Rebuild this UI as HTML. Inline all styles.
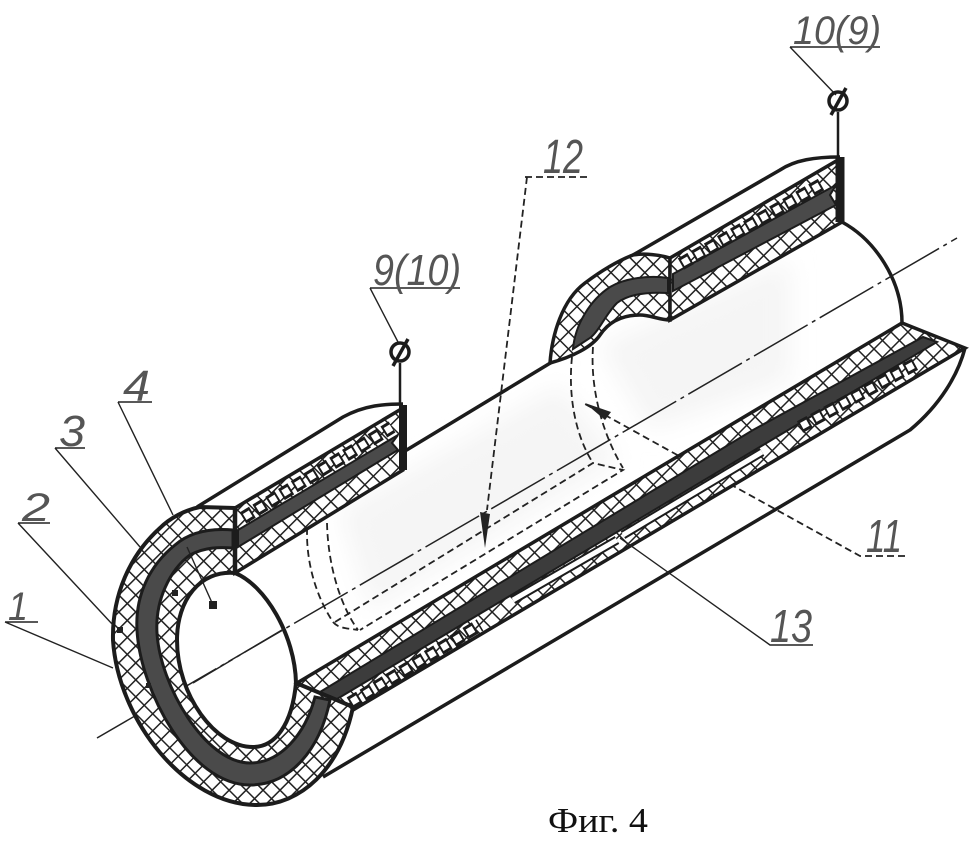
<!DOCTYPE html>
<html><head><meta charset="utf-8"><style>
html,body{margin:0;padding:0;background:#fff}
svg{display:block}
</style></head><body>
<svg xmlns="http://www.w3.org/2000/svg" width="970" height="844" viewBox="0 0 970 844">
<defs>
<pattern id="h" width="12" height="12" patternUnits="userSpaceOnUse" patternTransform="rotate(45)">
<rect width="12" height="12" fill="#fff"/>
<path d="M0,0H12M0,0V12" stroke="#222" stroke-width="3" fill="none"/>
</pattern>
<filter id="b"><feGaussianBlur stdDeviation="12"/></filter>
</defs>
<rect width="970" height="844" fill="#fff"/>
<g filter="url(#b)" fill="#f5f5f5">
<polygon points="340,510 560,385 620,460 370,610"/>
<polygon points="600,345 790,260 790,380 650,430"/>
</g>

<!-- body lines -->
<g fill="none" stroke="#1c1c1c" stroke-width="3.5">
<path d="M197,507L343,417C365,405 385,404 403,404"/>
<path d="M633,255L780,170C795,160 815,157 840,157"/>
<path d="M405,451L552,362"/>
<path d="M842,222C875,240 902,280 902,323"/>
<path d="M323,777L910,430C940,405 958,375 965,348"/>
</g>

<!-- centre line -->
<g fill="none" stroke="#222" stroke-width="1.5" stroke-dasharray="62 5 4 5">
<path d="M97,738L957,238"/>
</g>

<!-- hidden dashed -->
<g fill="none" stroke="#222" stroke-width="1.8" stroke-dasharray="7 4">
<path d="M308,517C304,550 312,590 333,622C338,628 345,628 358,630"/>
<path d="M327,523C328,565 340,605 358,630"/>
<path d="M335,622L593,463L623,470L360,630"/>
<path d="M572,357C568,395 575,435 593,463"/>
<path d="M593,347C590,390 603,435 623,468"/>
<path d="M525,177H590M527,177L487,510"/>
<path d="M905,556H860L585,404"/>
</g>
<polygon points="480,512 490,514 485,548" fill="#222"/>
<polygon points="585,403 611,412 605,420" fill="#222"/>

<!-- left stub strip -->
<polygon points="235,508 403,408 403,470 235,573" fill="url(#h)" stroke="#1c1c1c" stroke-width="3.5"/>
<polygon points="238,530 398,435 392,443 398,450 238,547" fill="#4a4a4a" stroke="#1c1c1c" stroke-width="2"/>
<path d="M243,518L392,427" stroke="#1c1c1c" stroke-width="13" stroke-dasharray="11 4" fill="none"/>
<path d="M243,518L392,427" stroke="#fff" stroke-width="7" stroke-dasharray="7 8" stroke-dashoffset="-2" fill="none"/>
<path d="M403,405V470" stroke="#1c1c1c" stroke-width="8"/>

<!-- right flange -->
<path d="M550,363C552,335 562,300 585,283C605,268 620,260 633,255C645,253 660,255 670,258L670,320C660,320 650,315 640,315C625,315 610,320 600,335C592,347 572,357 550,363Z" fill="url(#h)" stroke="#1c1c1c" stroke-width="3.5"/>
<path d="M573,349C575,325 590,300 610,287C625,278 650,275 668,278L668,293C650,292 630,293 617,303C605,315 600,330 590,338Z" fill="#4a4a4a" stroke="#1c1c1c" stroke-width="2"/>
<polygon points="670,258 838,160 842,222 670,320" fill="url(#h)" stroke="#1c1c1c" stroke-width="3.5"/>
<polygon points="673,274 836,185 830,195 836,205 673,291" fill="#4a4a4a" stroke="#1c1c1c" stroke-width="2"/>
<path d="M681,264L822,184" stroke="#1c1c1c" stroke-width="13" stroke-dasharray="11 4" fill="none"/>
<path d="M681,264L822,184" stroke="#fff" stroke-width="7" stroke-dasharray="7 8" stroke-dashoffset="-2" fill="none"/>
<path d="M840,157V222" stroke="#1c1c1c" stroke-width="9"/>

<!-- lower strip -->
<polygon points="297,683 902,323 965,348 353,710" fill="url(#h)" stroke="#1c1c1c" stroke-width="3.5"/>
<polygon points="320,692 753,430 923,337 937,342 800,423 337,699" fill="#3c3c3c" stroke="#1c1c1c" stroke-width="2"/>
<g fill="none">
<path d="M350,703L480,625M800,427L917,363" stroke="#1c1c1c" stroke-width="13" stroke-dasharray="11 4"/>
<path d="M350,703L480,625M800,427L917,363" stroke="#fff" stroke-width="7" stroke-dasharray="7 8" stroke-dashoffset="-2"/>
<path d="M513,600L617,540M623,535L762,452" stroke="#1c1c1c" stroke-width="9"/>
<path d="M513,600L617,540M623,535L762,452" stroke="#fff" stroke-width="5"/>
</g>

<!-- front face -->
<path d="M235,508L200,507C185,510 170,518 160,528C130,555 112,595 113,640C118,720 185,805 257,805C300,805 340,770 353,707L332,698L296,683C292,725 275,747 253,747C215,747 177,695 177,640C177,600 200,570 235,573Z" fill="url(#h)" stroke="#1c1c1c" stroke-width="4" stroke-linejoin="round"/>
<path d="M235,573C265,585 295,635 296,683" fill="none" stroke="#1c1c1c" stroke-width="4"/>
<path d="M233,530C210,528 190,532 175,545C150,565 135,595 137,630C140,690 190,785 250,785C290,785 320,750 330,700L315,697C305,735 280,763 250,763C205,763 160,685 157,633C155,600 170,570 190,555C205,547 220,547 233,548Z" fill="#4a4a4a" stroke="#1c1c1c" stroke-width="3"/>
<path d="M235,508V573" stroke="#1c1c1c" stroke-width="4.5"/>
<path d="M193,683L287,627" stroke="#222" stroke-width="1.5" stroke-dasharray="46 5 4 5" fill="none"/>

<!-- leaders -->
<g fill="none" stroke="#222" stroke-width="1.4">
<path d="M790,47H880M790,47L836,95"/>
<path d="M370,288H460M370,288L398,342"/>
<path d="M118,402H152M118,402L173,515"/>
<path d="M187,547L213,605"/>
<path d="M55,448H85M55,448L140,547"/>
<path d="M18,523H50M18,523L113,625"/>
<path d="M5,622H38M5,622L113,668"/>
<path d="M620,538L770,645H813"/>
</g>
<rect x="209" y="601" width="8" height="8" fill="#222"/>
<rect x="172" y="590" width="6" height="6" fill="#222"/>
<rect x="117" y="627" width="6" height="6" fill="#222"/>
<rect x="146" y="683" width="5" height="5" fill="#222"/>

<!-- terminals -->
<g fill="none" stroke="#1c1c1c">
<circle cx="838" cy="101" r="9" stroke-width="3.5"/>
<path d="M831,115L846,88" stroke-width="3.5"/>
<path d="M838,112V157" stroke-width="2.5"/>
<circle cx="400" cy="352" r="9" stroke-width="3.5"/>
<path d="M393,366L408,339" stroke-width="3.5"/>
<path d="M400,363V405" stroke-width="2.5"/>
</g>

<!-- labels -->
<g font-family="'Liberation Sans',sans-serif" font-style="italic" fill="#555">
<text x="793" y="44" font-size="40" textLength="88" lengthAdjust="spacingAndGlyphs">10(9)</text>
<text x="373" y="285" font-size="44" textLength="88" lengthAdjust="spacingAndGlyphs">9(10)</text>
<text x="543" y="173" font-size="48" textLength="40" lengthAdjust="spacingAndGlyphs">12</text>
<text x="866" y="552" font-size="46" textLength="36" lengthAdjust="spacingAndGlyphs">11</text>
<text x="770" y="642" font-size="46" textLength="42" lengthAdjust="spacingAndGlyphs">13</text>
<text x="123" y="401" font-size="44" textLength="27" lengthAdjust="spacingAndGlyphs">4</text>
<text x="59" y="446" font-size="44" textLength="26" lengthAdjust="spacingAndGlyphs">3</text>
<text x="22" y="521" font-size="40" textLength="28" lengthAdjust="spacingAndGlyphs">2</text>
<text x="8" y="620" font-size="40" textLength="20" lengthAdjust="spacingAndGlyphs">1</text>
</g>
<text x="548" y="832" font-family="'Liberation Serif','DejaVu Serif',serif" font-size="35" fill="#111" textLength="100" lengthAdjust="spacingAndGlyphs">Фиг. 4</text>
</svg>
</body></html>
